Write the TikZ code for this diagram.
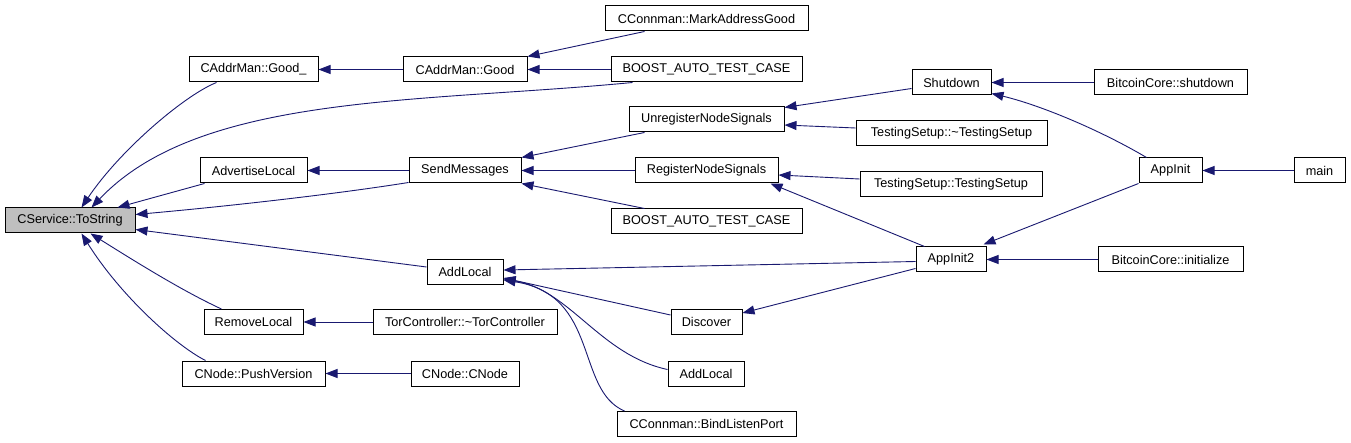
\documentclass[tikz,border=0pt]{standalone}
\usepackage{fontspec}
\setmainfont{Liberation Sans}
\usetikzlibrary{arrows.meta}
\definecolor{edgecol}{HTML}{191970}
\definecolor{hlfill}{HTML}{BFBFBF}
\tikzset{
  fn/.style={draw=black, line width=1pt, fill=white, inner sep=0pt, minimum height=25pt,
    font=\fontsize{12.7}{14}\selectfont, text=black},
  hl/.style={fn, fill=hlfill},
  call/.style={draw=edgecol, line width=0.9pt, -{Triangle[length=12pt,width=9pt]}},
}
\begin{document}
\begin{tikzpicture}[x=1pt,y=-1pt]
\useasboundingbox[fill=white] (0,0) rectangle (1351,443);
% nodes
\node[hl, minimum width=130pt] (ts) at (70,220.5) {CService::ToString};
\node[fn, minimum width=129pt] (goodu) at (253.5,69.5) {CAddrMan::Good\_};
\node[fn, minimum width=107pt] (advl) at (253.5,170.5) {AdvertiseLocal};
\node[fn, minimum width=76pt] (addl) at (465,272) {AddLocal};
\node[fn, minimum width=99pt] (reml) at (253.5,322) {RemoveLocal};
\node[fn, minimum width=143pt] (pushv) at (253.5,373.5) {CNode::PushVersion};
\node[fn, minimum width=124pt] (good) at (465,69.5) {CAddrMan::Good};
\node[fn, minimum width=112pt] (sendm) at (465,170.5) {SendMessages};
\node[fn, minimum width=184pt] (torc) at (465,322) {TorController::\textasciitilde TorController};
\node[fn, minimum width=108pt] (cnode) at (465,373.5) {CNode::CNode};
\node[fn, minimum width=203pt] (markag) at (706.5,18.5) {CConnman::MarkAddressGood};
\node[fn, minimum width=191pt] (boosta) at (706.5,69.5) {BOOST\_AUTO\_TEST\_CASE};
\node[fn, minimum width=155pt] (unreg) at (706.5,119.5) {UnregisterNodeSignals};
\node[fn, minimum width=143pt] (reg) at (706.5,170.5) {RegisterNodeSignals};
\node[fn, minimum width=191pt] (boostb) at (706.5,221.5) {BOOST\_AUTO\_TEST\_CASE};
\node[fn, minimum width=71pt] (disc) at (706.5,322) {Discover};
\node[fn, minimum width=76pt] (addlb) at (706,373.5) {AddLocal};
\node[fn, minimum width=179pt] (bind) at (706.5,424) {CConnman::BindListenPort};
\node[fn, minimum width=79pt] (shut) at (951.5,82.5) {Shutdown};
\node[fn, minimum width=191pt] (tsd) at (951.5,133.5) {TestingSetup::\textasciitilde TestingSetup};
\node[fn, minimum width=182pt] (tsc) at (951,184) {TestingSetup::TestingSetup};
\node[fn, minimum width=70pt] (ai2) at (951,259.5) {AppInit2};
\node[fn, minimum width=153pt] (bcshut) at (1170.5,82.5) {BitcoinCore::shutdown};
\node[fn, minimum width=63pt] (ai) at (1170.5,170.5) {AppInit};
\node[fn, minimum width=145pt] (bcinit) at (1170.5,259.5) {BitcoinCore::initialize};
\node[fn, minimum width=51pt] (main) at (1319.5,170.5) {main};
% edges into CService::ToString
\draw[call] ([xshift=28pt]goodu.south west) .. controls (185,95) and (120,150) .. ([xshift=77pt]ts.north west);
\draw[call] ([xshift=22pt]boosta.south west) .. controls (420,103) and (200,93) .. ([xshift=87pt]ts.north west);
\draw[call] ([xshift=5pt]advl.south west) -- ([xshift=113pt]ts.north west);
\draw[call] ([yshift=1pt]sendm.south west) .. controls (330,195) and (220,207) .. ([yshift=6pt]ts.east);
\draw[call] ([yshift=5pt]addl.west) -- ([yshift=-9pt]ts.east);
\draw[call] ([xshift=18pt]reml.north west) .. controls (180,290) and (125,255) .. ([xshift=86pt]ts.south west);
\draw[call] ([xshift=24pt]pushv.north west) .. controls (175,345) and (120,295) .. ([xshift=77pt]ts.south west);
% other edges
\draw[call] (good.west) -- (goodu.east);
\draw[call] ([xshift=40pt]markag.south west) -- (good.north east);
\draw[call] (boosta.west) -- (good.east);
\draw[call] (sendm.west) -- (advl.east);
\draw[call] ([xshift=16pt]unreg.south west) -- (sendm.north east);
\draw[call] (reg.west) -- (sendm.east);
\draw[call] ([xshift=34pt]boostb.north west) -- (sendm.south east);
\draw[call] ([yshift=-6pt]shut.west) -- ([yshift=-1pt]unreg.north east);
\draw[call] ([yshift=5.5pt]tsd.west) -- ([yshift=-5.5pt]unreg.east);
\draw[call] ([yshift=5pt]tsc.west) -- ([yshift=-4.5pt]reg.east);
\draw[call] ([xshift=9pt]ai2.north west) -- ([xshift=-8pt]reg.south east);
\draw[call] (bcshut.west) -- (shut.east);
\draw[call] ([xshift=8pt]ai.north west) .. controls (1100,130) and (1040,105) .. ([yshift=2pt]shut.south east);
\draw[call] (main.west) -- (ai.east);
\draw[call] (ai.south west) -- ([xshift=-3pt,yshift=2pt]ai2.north east);
\draw[call] (bcinit.west) -- (ai2.east);
\draw[call] ([yshift=-2pt]ai2.west) -- ([yshift=2pt]addl.east);
\draw[call] ([yshift=-9pt]ai2.west) -- ([yshift=9pt]disc.east);
\draw[call] ([yshift=7pt]disc.west) -- ([yshift=-6pt]addl.east);
\draw[call] ([yshift=4pt]addlb.west) .. controls (600,355) and (570,290) .. ([yshift=-7pt]addl.east);
\draw[call] ([xshift=8pt]bind.north west) .. controls (575,390) and (600,295) .. ([yshift=-8pt]addl.east);
\draw[call] (torc.west) -- (reml.east);
\draw[call] (cnode.west) -- (pushv.east);
\end{tikzpicture}
\end{document}
